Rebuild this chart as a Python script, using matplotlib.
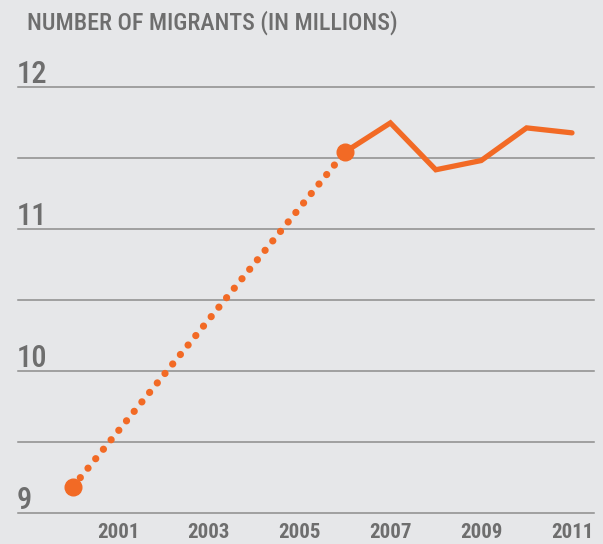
import matplotlib.pyplot as plt
import matplotlib.transforms as mtransforms

# values (millions of migrants)
est_years = [2000, 2006]
est_values = [9.18, 11.54]
years = [2006, 2007, 2008, 2009, 2010, 2011]
values = [11.54, 11.745, 11.415, 11.48, 11.71, 11.675]

grid_values = [9, 9.5, 10, 10.5, 11, 11.5, 12]
ytick_values = [9, 10, 11, 12]
ytick_labels = ["9", "10", "11", "12"]
xtick_years = [2001, 2003, 2005, 2007, 2009, 2011]

plt.rcParams["font.family"] = ["Roboto Condensed", "DejaVu Sans"]

orange = "#f26a25"
gray = "#6e6e6e"
bg = "#e6e7e9"

fig = plt.figure(figsize=(6.03, 5.44), dpi=100, facecolor=bg)
ax = fig.add_axes([0, 0, 1, 1])
ax.set_facecolor(bg)
ax.set_xlim(1998.401, 2011.683)
ax.set_ylim(8.7796, 12.6106)
ax.axis("off")

for g in grid_values:
    ax.axhline(g, xmin=18 / 603, xmax=594 / 603, color="#8c8c8c", lw=1.1, zorder=1)

lab_tr = mtransforms.offset_copy(
    mtransforms.blended_transform_factory(ax.transAxes, ax.transData),
    fig=fig, x=0, y=2.5, units="points")
for v, s in zip(ytick_values, ytick_labels):
    ax.text(17 / 603, v, s, transform=lab_tr, fontsize=22, fontweight="medium",
            color=gray, ha="left", va="baseline")

# dotted estimate section
ax.plot(est_years, est_values, color=orange, lw=5.2,
        linestyle=(0, (0.01, 1.68)), dash_capstyle="round", zorder=3)
ax.plot(years, values, color=orange, lw=3.8, solid_joinstyle="miter",
        solid_capstyle="round", zorder=3)
ax.plot(est_years, est_values, "o", color=orange, ms=12, zorder=4)

yr_tr = mtransforms.blended_transform_factory(ax.transData, fig.transFigure)
for yr in xtick_years:
    ax.text(yr, 1.5 / 544, str(yr), transform=yr_tr, fontsize=15,
            fontweight="semibold", color=gray, ha="center", va="bottom")

fig.text(27 / 603, 1 - 30 / 544, "NUMBER OF MIGRANTS (IN MILLIONS)",
         fontsize=17.3, fontweight="medium", color=gray, ha="left", va="baseline")

fig.savefig("out.png", dpi=100, facecolor=bg)
